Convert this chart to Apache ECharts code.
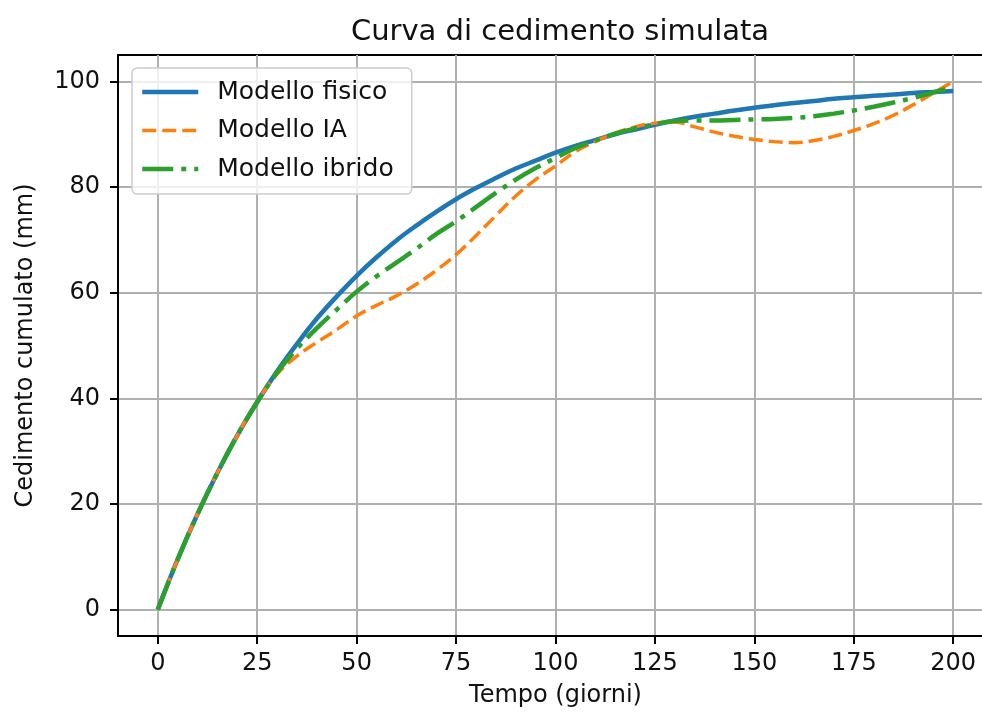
<!DOCTYPE html>
<html>
<head>
<meta charset="utf-8">
<script src="https://cdn.jsdelivr.net/npm/echarts@6/dist/echarts.min.js"></script>
<style>
  html, body { margin: 0; padding: 0; background: #fff; }
  #chart { width: 982px; height: 715px; }
</style>
</head>
<body>
<div id="chart"></div>
<script>
// giorni (step 5)
var days = [0, 5, 10, 15, 20, 25, 30, 35, 40, 45, 50, 55, 60, 65, 70, 75, 80, 85, 90, 95, 100,
  105, 110, 115, 120, 125, 130, 135, 140, 145, 150, 155, 160, 165, 170, 175, 180, 185, 190, 195, 200];

// cedimento (mm)
var fisico = [0, 9.5, 18.1, 25.9, 33.0, 39.3, 45.1, 50.3, 55.1, 59.3, 63.2, 66.7, 69.9, 72.7, 75.3, 77.7,
  79.8, 81.7, 83.5, 85.0, 86.5, 87.8, 88.9, 90.0, 90.9, 91.8, 92.6, 93.3, 93.9, 94.5, 95.0,
  95.5, 95.9, 96.3, 96.7, 97.0, 97.3, 97.5, 97.8, 98.0, 98.2];
var ia = [0, 9.5, 18.1, 25.9, 33.0, 39.4, 44.6, 48.0, 50.6, 53.0, 55.6, 57.6, 59.4, 61.6, 64.2, 67.2,
  70.8, 74.6, 78.3, 81.4, 84.0, 86.7, 88.6, 90.2, 91.4, 92.1, 92.3, 91.4, 90.4, 89.6, 89.0,
  88.6, 88.4, 88.8, 89.6, 90.7, 92.0, 93.6, 95.6, 97.8, 100.0];
var ibrido = [0, 9.5, 18.1, 25.9, 33.0, 39.3, 44.9, 49.4, 53.3, 56.8, 60.2, 63.1, 65.7, 68.3, 71.1, 73.5,
  76.2, 78.9, 81.4, 83.6, 85.5, 87.4, 88.8, 90.1, 91.1, 91.9, 92.5, 92.6, 92.6, 92.7, 92.8,
  92.9, 93.1, 93.4, 93.9, 94.5, 95.2, 96.0, 96.9, 97.9, 98.9];

var xTicks = [0, 25, 50, 75, 100, 125, 150, 175, 200];
var yTicks = [0, 20, 40, 60, 80, 100];

function pairs(xs, ys) {
  return xs.map(function (x, i) { return [x, ys[i]]; });
}

var font = "DejaVu Sans";
var myChart = echarts.init(document.getElementById("chart"), null, { renderer: "canvas" });

myChart.setOption({
  animation: false,
  backgroundColor: "#fff",
  textStyle: { fontFamily: font },
  title: {
    text: "Curva di cedimento simulata",
    left: 555,
    top: 13,
    textAlign: "center",
    textStyle: { fontFamily: font, fontSize: 29, fontWeight: "normal", color: "#111" }
  },
  grid: {
    left: 118, width: 875, top: 55, bottom: 79,
    outerBoundsMode: "none",
    containLabel: false,
    show: true, borderColor: "#000", borderWidth: 2, backgroundColor: "transparent"
  },
  legend: {
    orient: "vertical",
    left: 132, top: 68,
    padding: [9, 18, 10, 8],
    itemGap: 8.5,
    itemWidth: 56,
    itemHeight: 14,
    backgroundColor: "rgba(255,255,255,0.8)",
    borderColor: "#cccccc",
    borderWidth: 1.5,
    borderRadius: 5,
    itemStyle: { opacity: 0 },
    textStyle: { fontFamily: font, fontSize: 25, color: "#111", lineHeight: 30, padding: [0, 0, 0, 14] },
    data: [
      { name: "Modello fisico", lineStyle: { width: 4.5 } },
      { name: "Modello IA", lineStyle: { width: 3.5 } },
      { name: "Modello ibrido", lineStyle: { width: 4.5 } }
    ]
  },
  xAxis: {
    type: "value",
    min: -10, max: 210,
    name: "Tempo (giorni)",
    nameLocation: "middle",
    nameGap: 48,
    nameTextStyle: { fontFamily: font, fontSize: 24, color: "#111" },
    axisLine: { show: true, onZero: false, lineStyle: { color: "#000", width: 2 } },
    axisTick: { show: true, inside: false, customValues: xTicks, length: 8, lineStyle: { color: "#000", width: 2 } },
    axisLabel: { customValues: xTicks, margin: 16, fontFamily: font, fontSize: 24, color: "#111" },
    splitLine: { show: true, lineStyle: { color: "#b0b0b0", width: 2 } }
  },
  yAxis: {
    type: "value",
    min: -5, max: 105,
    name: "Cedimento cumulato (mm)",
    nameLocation: "middle",
    nameGap: 80,
    nameTextStyle: { fontFamily: font, fontSize: 24, color: "#111" },
    axisLine: { show: true, onZero: false, lineStyle: { color: "#000", width: 2 } },
    axisTick: { show: true, inside: false, customValues: yTicks, length: 8, lineStyle: { color: "#000", width: 2 } },
    axisLabel: { customValues: yTicks, margin: 18, fontFamily: font, fontSize: 24, color: "#111" },
    splitLine: { show: true, lineStyle: { color: "#b0b0b0", width: 2 } }
  },
  series: [
    {
      name: "Modello fisico",
      type: "line",
      data: pairs(days, fisico),
      smooth: 0.4,
      symbol: "none",
      color: "#1f77b4",
      lineStyle: { color: "#1f77b4", width: 4.5, cap: "butt" },
      z: 2
    },
    {
      name: "Modello IA",
      type: "line",
      data: pairs(days, ia),
      smooth: 0.4,
      symbol: "none",
      color: "#ff7f0e",
      lineStyle: { color: "#ff7f0e", width: 3.5, type: [14, 6], cap: "butt" },
      z: 3
    },
    {
      name: "Modello ibrido",
      type: "line",
      data: pairs(days, ibrido),
      smooth: 0.4,
      symbol: "none",
      color: "#2ca02c",
      lineStyle: { color: "#2ca02c", width: 4.5, type: [31, 8, 5, 8], cap: "butt" },
      z: 4
    }
  ]
});
</script>
</body>
</html>
